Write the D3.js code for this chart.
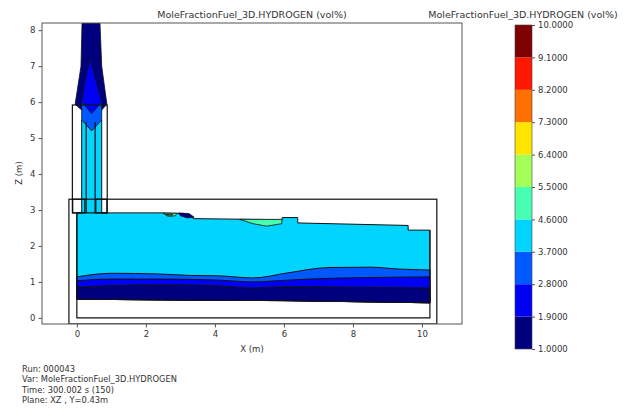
<!DOCTYPE html>
<html lang="en">
<head>
  <meta charset="UTF-8">
  <title>MoleFractionFuel_3D.HYDROGEN</title>
  <script src="https://d3js.org/d3.v7.min.js"></script>
  <style>
    body { margin: 0; background: #fff; }
    text { font-family: "DejaVu Sans", sans-serif; fill: #333; }
  </style>
</head>
<body>
  <svg width="638" height="408"></svg>
  <script>
    // contour levels and the colours of the bands between them
    const levels = [1.0, 1.9, 2.8, 3.7, 4.6, 5.5, 6.4, 7.3, 8.2, 9.1, 10.0];
    const bandColors = ["#00007f", "#0000f5", "#0058ff", "#00d4ff", "#46ffb0",
                        "#a4ff58", "#ffe400", "#ff7000", "#ff1800", "#7f0000"];
    const xTicks = [0, 2, 4, 6, 8, 10];
    const zTicks = [0, 1, 2, 3, 4, 5, 6, 7, 8];

    // room: boundaries of the low concentration layers (x, z in m)
    const floorLine = [[0, 0.52], [2.4, 0.5], [6, 0.48], [10.23, 0.42]];
    const line19 = [[0, 0.86], [2.4, 0.92], [4.1, 0.89], [5.1, 0.83], [6.1, 0.87], [8, 0.85], [10.23, 0.83]];
    const line28 = [[0, 1.03], [1, 1.08], [2.4, 1.08], [4.1, 1.05], [5.1, 1.0], [6.1, 1.05], [7.3, 1.1], [10.23, 1.14]];
    const line37 = [[0, 1.14], [1, 1.24], [2.4, 1.22], [3.3, 1.18], [4.1, 1.17], [5.1, 1.11], [6.1, 1.25], [7.3, 1.4], [8.5, 1.41], [9.3, 1.36], [10.23, 1.33]];

    // cyan body of the room plus chimney column (floor closes it)
    const roomTop = [[0, 2.92], [0.14, 2.92], [0.14, 5.5], [0.72, 5.5], [0.72, 2.92],
                     [2.5, 2.92], [3.1, 2.9], [3.4, 2.76], [5.95, 2.73], [5.95, 2.79], [6.4, 2.79],
                     [6.4, 2.64], [9.6, 2.57], [9.6, 2.44], [10.23, 2.44]];

    // small patches and the plume above the chimney: [value, points]
    const patches = [
      [5.0, [[4.72, 2.74], [5.1, 2.62], [5.5, 2.55], [5.94, 2.62], [5.94, 2.74]]],
      [5.0, [[2.5, 2.91], [2.65, 2.82], [2.85, 2.84], [2.9, 2.91]]],
      [6.0, [[2.58, 2.88], [2.68, 2.84], [2.78, 2.87]]],
      [1.5, [[2.95, 2.92], [3.25, 2.9], [3.4, 2.8], [3.2, 2.78], [3.0, 2.84]]],
      [1.5, [[0.15, 8.2], [0.67, 8.2], [0.72, 7.0], [0.87, 5.94], [0.72, 5.78], [0.14, 5.78], [-0.05, 5.94], [0.12, 7.0]]],
      [3.2, [[0.14, 6.0], [0.72, 6.0], [0.72, 5.5], [0.43, 5.2], [0.14, 5.5]]],
      [2.3, [[0.38, 7.2], [0.58, 6.5], [0.72, 6.0], [0.43, 5.68], [0.14, 6.0], [0.22, 6.5]]]
    ];

    // geometry outlines: [x0, z0, x1, z1]
    const walls = [
      [-0.23, -0.17, 10.43, 3.3],
      [-0.13, 2.92, 0.88, 5.92],
      [-0.12, 2.92, 0.23, 3.3],
      [0.55, 2.92, 0.87, 3.3]
    ];
    const wallLines = [
      [[0, 2.92], [0, 0], [10.23, 0], [10.23, 2.44]],
      [[0.27, 2.92], [0.27, 5.45]],
      [[0.53, 2.92], [0.53, 5.45]]
    ];

    const infoLines = ["Run: 000043", "Var: MoleFractionFuel_3D.HYDROGEN",
                       "Time: 300.002 s (150)", "Plane: XZ , Y=0.43m"];

    const svg = d3.select("svg");
    const x = d3.scaleLinear().domain([-1.01, 11.16]).range([42, 462]);
    const z = d3.scaleLinear().domain([-0.17, 8.2]).range([324, 23]);
    const color = d3.scaleThreshold().domain(levels.slice(1, -1)).range(bandColors);

    const plot = svg.append("g");
    plot.append("clipPath").attr("id", "clip")
      .append("rect").attr("x", 42).attr("y", 23).attr("width", 420).attr("height", 301);
    const body = plot.append("g").attr("clip-path", "url(#clip)");

    const straight = d3.line().x(d => x(d[0])).y(d => z(d[1]));
    const smooth = d3.line().x(d => x(d[0])).y(d => z(d[1])).curve(d3.curveMonotoneX);
    const floorBack = straight(floorLine.slice().reverse()).replace("M", "L");
    const layer = top => smooth(top) + floorBack + "Z";

    body.append("path").attr("d", straight(roomTop) + floorBack + "Z")
      .attr("fill", color(4.0)).attr("stroke", "#111").attr("stroke-width", 1);

    [[line37, 3.2], [line28, 2.3], [line19, 1.4]].forEach(([top, v]) => {
      body.append("path").attr("d", layer(top))
        .attr("fill", color(v)).attr("stroke", "#111").attr("stroke-width", 1);
    });

    patches.forEach(([v, pts]) => {
      body.append("path").attr("d", straight(pts) + "Z")
        .attr("fill", color(v)).attr("stroke", "#111").attr("stroke-width", 0.8);
    });

    walls.forEach(w => {
      body.append("rect")
        .attr("x", x(w[0])).attr("y", z(w[3]))
        .attr("width", x(w[2]) - x(w[0])).attr("height", z(w[1]) - z(w[3]))
        .attr("fill", "none").attr("stroke", "#111").attr("stroke-width", 1.2);
    });
    wallLines.forEach(l => {
      body.append("path").attr("d", straight(l))
        .attr("fill", "none").attr("stroke", "#111").attr("stroke-width", 1.2);
    });

    // axes frame
    plot.append("rect").attr("x", 42).attr("y", 23).attr("width", 420).attr("height", 301)
      .attr("fill", "none").attr("stroke", "#555").attr("stroke-width", 1);

    const xAxis = plot.append("g").attr("transform", "translate(0,324)")
      .call(d3.axisBottom(x).tickValues(xTicks).tickSize(3.5).tickPadding(3));
    const zAxis = plot.append("g").attr("transform", "translate(42,0)")
      .call(d3.axisLeft(z).tickValues(zTicks).tickSize(3.5).tickPadding(3));
    [xAxis, zAxis].forEach(a => {
      a.select(".domain").remove();
      a.selectAll("line").attr("stroke", "#555");
      a.selectAll("text").style("font-family", "DejaVu Sans").style("font-size", "8.5px").attr("fill", "#333");
    });

    plot.append("text").attr("x", 252).attr("y", 352).attr("text-anchor", "middle")
      .style("font-size", "8.5px").text("X (m)");
    plot.append("text").attr("transform", "translate(22,173) rotate(-90)").attr("text-anchor", "middle")
      .style("font-size", "8.5px").text("Z (m)");
    plot.append("text").attr("x", 252).attr("y", 18).attr("text-anchor", "middle")
      .style("font-size", "9.5px").text("MoleFractionFuel_3D.HYDROGEN (vol%)");

    // colour bar
    const cb = svg.append("g");
    const cz = d3.scaleLinear().domain([1, 10]).range([349, 25]);
    cb.selectAll("rect.band").data(bandColors).join("rect").attr("class", "band")
      .attr("x", 515).attr("width", 17)
      .attr("y", (d, i) => cz(levels[i + 1]))
      .attr("height", (d, i) => cz(levels[i]) - cz(levels[i + 1]))
      .attr("fill", d => d);
    cb.append("rect").attr("x", 515).attr("y", cz(10)).attr("width", 17).attr("height", cz(1) - cz(10))
      .attr("fill", "none").attr("stroke", "#444").attr("stroke-width", 0.6);
    const cAxis = cb.append("g").attr("transform", "translate(532,0)")
      .call(d3.axisRight(cz).tickValues(levels).tickSize(3).tickPadding(3).tickFormat(d3.format(".4f")));
    cAxis.select(".domain").remove();
    cAxis.selectAll("line").attr("stroke", "#555");
    cAxis.selectAll("text").style("font-family", "DejaVu Sans").style("font-size", "8.5px").attr("fill", "#333");
    cb.append("text").attr("x", 523).attr("y", 18).attr("text-anchor", "middle")
      .style("font-size", "9.5px").text("MoleFractionFuel_3D.HYDROGEN (vol%)");

    svg.append("g").selectAll("text").data(infoLines).join("text")
      .attr("x", 22).attr("y", (d, i) => 372 + i * 10.3)
      .style("font-size", "8.3px").text(d => d);
  </script>
</body>
</html>
